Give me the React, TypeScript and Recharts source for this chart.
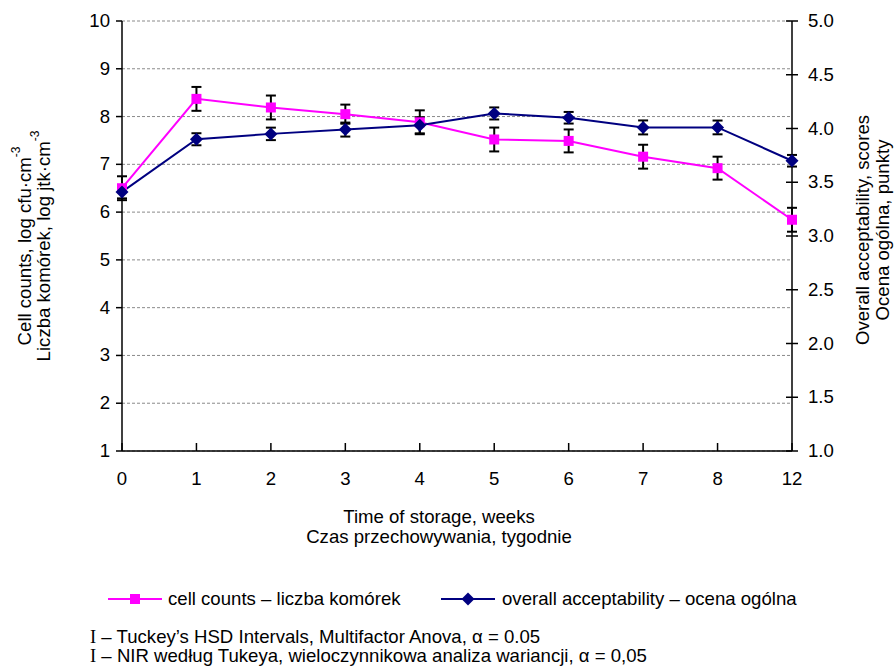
import { LineChart, Line, XAxis, YAxis, CartesianGrid, ErrorBar, Label } from 'recharts';

const weeks = ['0', '1', '2', '3', '4', '5', '6', '7', '8', '12'];
// cell counts, log cfu/cm3 (left axis)
const cellCounts = [6.5, 8.37, 8.19, 8.05, 7.88, 7.52, 7.49, 7.16, 6.92, 5.84];
const cellHsd = [0.25, 0.25, 0.25, 0.2, 0.25, 0.25, 0.24, 0.25, 0.24, 0.25];
// overall acceptability, scores (right axis)
const acceptability = [3.41, 3.9, 3.95, 3.99, 4.03, 4.14, 4.1, 4.01, 4.01, 3.7];
const acceptHsd = [0.06, 0.056, 0.058, 0.065, 0.075, 0.056, 0.054, 0.065, 0.064, 0.054];

const leftTicks = [1, 2, 3, 4, 5, 6, 7, 8, 9, 10];
const rightTicks = [1, 1.5, 2, 2.5, 3, 3.5, 4, 4.5, 5];

const PINK = '#FF00FF';
const NAVY = '#000080';
const FONT = '"Liberation Sans", Arial, sans-serif';
const FS = 18.6;

const data = weeks.map((week, i) => ({
    week,
    cells: cellCounts[i],
    cellsErr: cellHsd[i],
    accept: acceptability[i],
    acceptErr: acceptHsd[i],
}));

function SquareDot(props: any) {
    const { cx, cy, index } = props;
    if (cx == null || cy == null) return null;
    return <rect key={`sq-${index}`} x={cx - 5} y={cy - 5} width={10} height={10} fill={PINK} />;
}

function DiamondDot(props: any) {
    const { cx, cy, index } = props;
    if (cx == null || cy == null) return null;
    const r = 6.5;
    return (
        <polygon
            key={`dm-${index}`}
            points={`${cx},${cy - r} ${cx + r},${cy} ${cx},${cy + r} ${cx - r},${cy}`}
            fill={NAVY}
        />
    );
}

function BottomTick(props: any) {
    const { x, y, payload } = props;
    return (
        <g>
            <line x1={x} x2={x} y1={y - 8} y2={y} stroke="#000" strokeWidth={1.5} />
            <text x={x} y={y + 34} textAnchor="middle" fontSize={FS} fontFamily={FONT} fill="#000">
                {payload.value}
            </text>
        </g>
    );
}

function RightTick(props: any) {
    const { x, y, payload } = props;
    return (
        <g>
            <line x1={x - 6} x2={x + 6} y1={y} y2={y} stroke="#000" strokeWidth={1.5} />
            <text x={x + 16} y={y + 6} textAnchor="start" fontSize={FS} fontFamily={FONT} fill="#000">
                {Number(payload.value).toFixed(1)}
            </text>
        </g>
    );
}

function LeftTick(props: any) {
    const { x, y, payload } = props;
    return (
        <g>
            <line x1={x - 6} x2={x} y1={y} y2={y} stroke="#000" strokeWidth={1.5} />
            <text x={x - 12} y={y + 6} textAnchor="end" fontSize={FS} fontFamily={FONT} fill="#000">
                {payload.value}
            </text>
        </g>
    );
}

function LeftTitle(props: any) {
    const { viewBox } = props;
    const cy = viewBox.y + viewBox.height / 2 + 10;
    const x1 = viewBox.x - 38;
    const x2 = viewBox.x - 19;
    return (
        <g fontSize={FS} fontFamily={FONT} fill="#000">
            <text x={x1} y={cy} textAnchor="middle" dominantBaseline="central" transform={`rotate(-90, ${x1}, ${cy})`}>
                Cell counts, log cfu·cm<tspan dy={-8} fontSize={12}>-3</tspan>
            </text>
            <text x={x2} y={cy} textAnchor="middle" dominantBaseline="central" transform={`rotate(-90, ${x2}, ${cy})`}>
                Liczba komórek, log jtk·cm<tspan dy={-8} fontSize={12}>-3</tspan>
            </text>
        </g>
    );
}

function RightTitle(props: any) {
    const { viewBox } = props;
    const cy = viewBox.y + viewBox.height / 2 - 6;
    const x1 = viewBox.x + 70;
    const x2 = viewBox.x + 90;
    return (
        <g fontSize={FS} fontFamily={FONT} fill="#000">
            <text x={x1} y={cy} textAnchor="middle" dominantBaseline="central" transform={`rotate(-90, ${x1}, ${cy})`}>
                Overall acceptability, scores
            </text>
            <text x={x2} y={cy} textAnchor="middle" dominantBaseline="central" transform={`rotate(-90, ${x2}, ${cy})`}>
                Ocena ogólna, punkty
            </text>
        </g>
    );
}

function BottomTitle(props: any) {
    const { viewBox } = props;
    const cx = viewBox.x + viewBox.width / 2 - 18;
    return (
        <g fontSize={FS} fontFamily={FONT} fill="#000">
            <text x={cx} y={viewBox.y + 72} textAnchor="middle">Time of storage, weeks</text>
            <text x={cx} y={viewBox.y + 92} textAnchor="middle">Czas przechowywania, tygodnie</text>
        </g>
    );
}

export default function App() {
    return (
        <div style={{ position: 'relative', width: 896, height: 666, background: '#fff', fontFamily: FONT, color: '#000' }}>
            <style>{'body{margin:0}'}</style>
            <LineChart width={896} height={560} data={data} margin={{ top: 21, right: 44, left: 62, bottom: 49 }}>
                <CartesianGrid yAxisId="left" vertical={false} stroke="#8a8a8a" strokeDasharray="3 2" />
                <XAxis
                    dataKey="week"
                    scale="point"
                    padding={{ left: 0, right: 0 }}
                    height={60}
                    tickSize={0}
                    tickMargin={0}
                    tickLine={false}
                    tick={<BottomTick />}
                    axisLine={{ stroke: '#000', strokeWidth: 1.5 }}
                    interval={0}
                >
                    <Label content={<BottomTitle />} />
                </XAxis>
                <YAxis
                    yAxisId="left"
                    domain={[1, 10]}
                    ticks={leftTicks}
                    width={60}
                    tickSize={0}
                    tickMargin={0}
                    tickLine={false}
                    tick={<LeftTick />}
                    axisLine={{ stroke: '#000', strokeWidth: 1.5 }}
                    interval={0}
                >
                    <Label content={<LeftTitle />} />
                </YAxis>
                <YAxis
                    yAxisId="right"
                    orientation="right"
                    domain={[1, 5]}
                    ticks={rightTicks}
                    width={60}
                    tickSize={0}
                    tickMargin={0}
                    tickLine={false}
                    tick={<RightTick />}
                    axisLine={{ stroke: '#000', strokeWidth: 1.5 }}
                    interval={0}
                >
                    <Label content={<RightTitle />} />
                </YAxis>
                <Line
                    yAxisId="left"
                    dataKey="cells"
                    stroke={PINK}
                    strokeWidth={2}
                    dot={<SquareDot />}
                    isAnimationActive={false}
                >
                    <ErrorBar dataKey="cellsErr" width={5} stroke="#000" strokeWidth={2} direction="y" />
                </Line>
                <Line
                    yAxisId="right"
                    dataKey="accept"
                    stroke={NAVY}
                    strokeWidth={2}
                    dot={<DiamondDot />}
                    isAnimationActive={false}
                >
                    <ErrorBar dataKey="acceptErr" width={5} stroke="#000" strokeWidth={2} direction="y" />
                </Line>
            </LineChart>

            <div style={{ position: 'absolute', left: 0, top: 587, height: 24, width: 896 }}>
                <svg width={60} height={24} style={{ position: 'absolute', left: 105, top: 0 }}>
                    <line x1={3} x2={57} y1={12} y2={12} stroke={PINK} strokeWidth={2} />
                    <rect x={25} y={7} width={10} height={10} fill={PINK} />
                </svg>
                <span style={{ position: 'absolute', left: 168, top: 1, fontSize: FS, lineHeight: '22px', whiteSpace: 'nowrap' }}>
                    cell counts – liczba komórek
                </span>
                <svg width={60} height={24} style={{ position: 'absolute', left: 438, top: 0 }}>
                    <line x1={3} x2={57} y1={12} y2={12} stroke={NAVY} strokeWidth={2} />
                    <polygon points="30,5.5 36.5,12 30,18.5 23.5,12" fill={NAVY} />
                </svg>
                <span style={{ position: 'absolute', left: 502, top: 1, fontSize: FS, lineHeight: '22px', whiteSpace: 'nowrap' }}>
                    overall acceptability – ocena ogólna
                </span>
            </div>

            <div style={{ position: 'absolute', left: 90, top: 627, fontSize: FS, lineHeight: '19px', whiteSpace: 'nowrap' }}>
                <div>
                    <span style={{ fontFamily: '"Liberation Serif", serif' }}>I</span> – Tuckey’s HSD Intervals, Multifactor Anova, α = 0.05
                </div>
                <div>
                    <span style={{ fontFamily: '"Liberation Serif", serif' }}>I</span> – NIR według Tukeya, wieloczynnikowa analiza wariancji, α = 0,05
                </div>
            </div>
        </div>
    );
}
